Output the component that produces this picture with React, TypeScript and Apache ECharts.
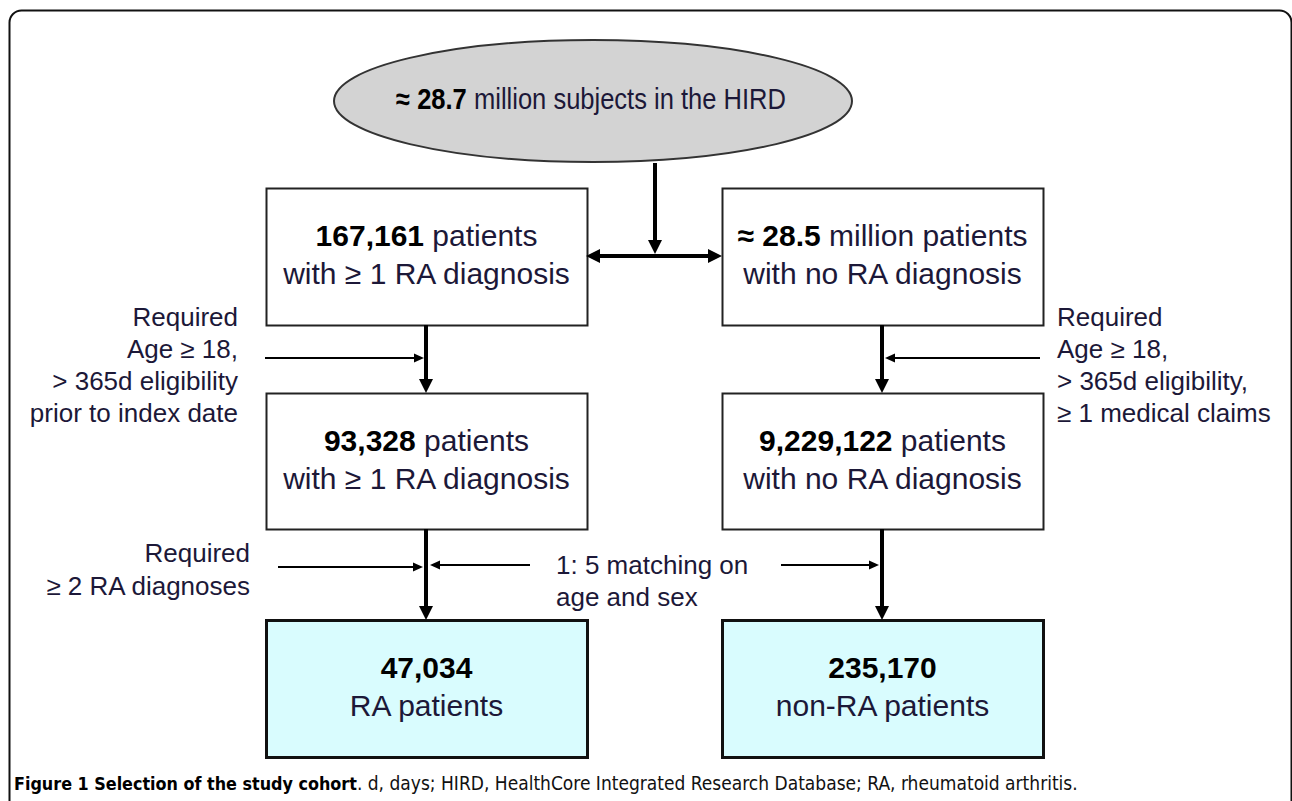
import React, { useEffect, useRef } from 'react';
import * as echarts from 'echarts';

// ---- content ----
const topNumber = '≈ 28.7';
const topLabel = ' million subjects in the HIRD';
const boxNumbers = ['167,161', '≈ 28.5', '93,328', '9,229,122', '47,034', '235,170'];
const boxLabels = [
  ' patients\nwith ≥ 1 RA diagnosis',
  ' million patients\nwith no RA diagnosis',
  ' patients\nwith ≥ 1 RA diagnosis',
  ' patients\nwith no RA diagnosis',
  '\nRA patients',
  '\nnon-RA patients',
];
const leftNote1 = ['Required', 'Age ≥ 18,', '> 365d eligibility', 'prior to index date'];
const rightNote1 = ['Required', 'Age ≥ 18,', '> 365d eligibility,', '≥ 1 medical claims'];
const leftNote2 = ['Required', '≥ 2 RA diagnoses'];
const matchNote = ['1: 5 matching on', 'age and sex'];
const captionBold = 'Figure 1 Selection of the study cohort';
const captionRest = '. d, days; HIRD, HealthCore Integrated Research Database; RA, rheumatoid arthritis.';

const FONT = '"Liberation Sans", Arial, sans-serif';
const CAPFONT = '"DejaVu Sans Condensed", "Liberation Sans", sans-serif';
const TXT = '#1c1838';

function head(tx: number, ty: number, dx: number, dy: number, L: number, W: number) {
  const px = -dy, py = dx;
  return {
    type: 'polygon',
    shape: {
      points: [
        [tx, ty],
        [tx - dx * L + px * W, ty - dy * L + py * W],
        [tx - dx * L - px * W, ty - dy * L - py * W],
      ],
    },
    style: { fill: '#000' },
  };
}

function arrow(x1: number, y1: number, x2: number, y2: number, thick: boolean, both = false) {
  const len = Math.hypot(x2 - x1, y2 - y1);
  const dx = (x2 - x1) / len, dy = (y2 - y1) / len;
  const L = thick ? 14 : 10;
  const W = thick ? 7 : 4.5;
  const lw = thick ? 4 : 2;
  const els: any[] = [];
  const sx = both ? x1 + dx * (L - 2) : x1;
  const sy = both ? y1 + dy * (L - 2) : y1;
  els.push({
    type: 'line',
    shape: { x1: sx, y1: sy, x2: x2 - dx * (L - 2), y2: y2 - dy * (L - 2) },
    style: { stroke: '#000', lineWidth: lw },
  });
  els.push(head(x2, y2, dx, dy, L, W));
  if (both) els.push(head(x1, y1, -dx, -dy, L, W));
  return els;
}

const cols = [266, 722];
const colW = 321;
const rows = [
  [188, 137],
  [393, 136],
  [620, 137],
];

export default function App() {
  const ref = useRef<HTMLDivElement>(null);
  useEffect(() => {
    if (!ref.current) return;
    const chart = echarts.init(ref.current, null, { renderer: 'svg' });
    const g: any[] = [];

    // outer frame
    g.push({
      type: 'rect',
      shape: { x: 9.5, y: 10.5, width: 1282, height: 900, r: 12 },
      style: { fill: '#fff', stroke: '#111', lineWidth: 2 },
    });

    // ellipse
    g.push({
      type: 'ellipse',
      shape: { cx: 593, cy: 101, rx: 259, ry: 61 },
      style: { fill: '#d3d3d3', stroke: '#333', lineWidth: 2 },
    });
    g.push({
      type: 'text',
      x: 591,
      y: 99,
      scaleX: 0.88,
      style: {
        text: '{b|' + topNumber + '}' + topLabel,
        font: '29px ' + FONT,
        fill: TXT,
        align: 'center',
        verticalAlign: 'middle',
        rich: { b: { font: 'bold 29px ' + FONT, fill: '#000' } },
      },
    });

    // boxes
    boxNumbers.forEach((num, i) => {
      const c = i % 2;
      const r = Math.floor(i / 2);
      const x = cols[c];
      const [y, h] = rows[r];
      const final = r === 2;
      g.push({
        type: 'rect',
        shape: { x: x + 0.5, y: y + 0.5, width: colW, height: h },
        style: {
          fill: final ? '#d9fcfe' : '#fff',
          stroke: final ? '#111' : '#222',
          lineWidth: final ? 3 : 2,
        },
      });
      const label = boxLabels[i];
      const text = '{b|' + num + '}' + label;
      g.push({
        type: 'text',
        x: x + colW / 2,
        y: y + h / 2 - 2,
        style: {
          text,
          font: '30px ' + FONT,
          fill: TXT,
          align: 'center',
          verticalAlign: 'middle',
          lineHeight: 38,
          rich: {
            b: { font: 'bold 30px ' + FONT, fill: '#000', lineHeight: 38 },
          },
        },
      });
    });

    // arrows
    g.push(...arrow(655, 163, 655, 254, true));
    g.push(...arrow(586, 256, 722, 256, true, true));
    g.push(...arrow(426, 325, 426, 393, true));
    g.push(...arrow(882, 325, 882, 393, true));
    g.push(...arrow(265, 358, 424, 358, false));
    g.push(...arrow(1040, 358, 885, 358, false));
    g.push(...arrow(426, 529, 426, 620, true));
    g.push(...arrow(882, 529, 882, 620, true));
    g.push(...arrow(278, 567, 423, 567, false));
    g.push(...arrow(530, 565, 430, 565, false));
    g.push(...arrow(781, 565, 879, 565, false));

    // notes
    const note = (lines: string[], x: number, yTop: number, align: string, lh: number) => ({
      type: 'text',
      x,
      y: yTop,
      style: {
        text: lines.join('\n'),
        font: '26px ' + FONT,
        fill: TXT,
        align,
        verticalAlign: 'top',
        lineHeight: lh,
      },
    });
    g.push(note(leftNote1, 238, 301, 'right', 32));
    g.push(note(rightNote1, 1057, 301, 'left', 32));
    g.push(note(leftNote2, 250, 536, 'right', 33));
    g.push(note(matchNote, 556, 549, 'left', 32));

    // caption
    g.push({
      type: 'text',
      x: 14,
      y: 783,
      style: {
        text: '{b|' + captionBold + '}' + captionRest,
        font: '19px ' + CAPFONT,
        fill: '#111',
        align: 'left',
        verticalAlign: 'middle',
        rich: {
          b: { font: 'bold 17.8px ' + CAPFONT, fill: '#000' },
        },
      },
    });

    chart.setOption({ animation: false, backgroundColor: '#fff', graphic: { elements: g } });
    return () => chart.dispose();
  }, []);
  return (
    <div
      ref={ref}
      style={{ position: 'fixed', left: 0, top: 0, width: 1292, height: 801, background: '#fff' }}
    />
  );
}
